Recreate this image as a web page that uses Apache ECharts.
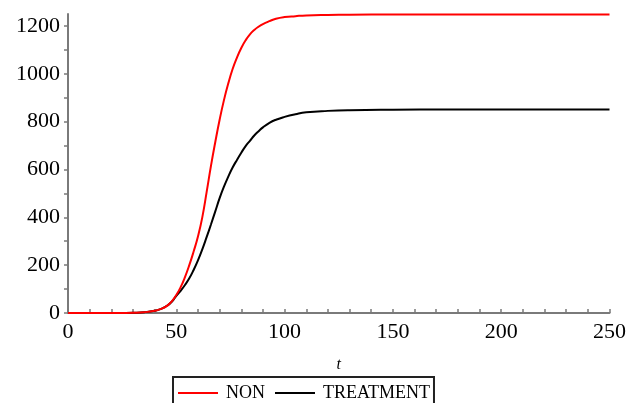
<!DOCTYPE html>
<html>
<head>
<meta charset="utf-8">
<script src="https://cdn.jsdelivr.net/npm/echarts@6/dist/echarts.min.js"></script>
<style>
  html, body { margin: 0; padding: 0; background: #fff; }
  #chart { width: 629px; height: 403px; }
</style>
</head>
<body>
<div id="chart"></div>
<script>
// time points (t)
var tVals = [0, 10, 20, 25, 30, 35, 40, 43, 46, 48, 50, 52, 54, 56, 58, 60, 62, 64, 66, 68, 70,
  72, 74, 76, 78, 80, 82, 84, 86, 88, 90, 93, 96, 100, 105, 110, 120, 130, 150, 175, 200, 225, 250];
var nonVals = [0, 0, 0, 0.3, 1, 3, 9, 17, 32, 50, 75, 108, 150, 200, 257, 320, 400, 505, 615, 715, 808,
  890, 960, 1020, 1068, 1108, 1140, 1165, 1183, 1197, 1208, 1220, 1230, 1237, 1241, 1244, 1246, 1247, 1248, 1248, 1248, 1248, 1248];
var treatVals = [0, 0, 0, 0.3, 1, 3, 9, 17, 32, 48, 72, 93, 117, 145, 180, 220, 266, 317, 370, 425, 480,
  528, 570, 608, 640, 670, 698, 720, 742, 760, 776, 795, 808, 820, 831, 839, 845, 848, 850, 851, 851, 851, 851];

var xLabelVals = [0, 50, 100, 150, 200, 250];
var xTickVals = [];
for (var i = 0; i <= 250; i += 10) xTickVals.push(i);
var yLabelVals = [0, 200, 400, 600, 800, 1000, 1200];
var yTickVals = [0, 100, 200, 300, 400, 500, 600, 700, 800, 900, 1000, 1100, 1200];

function pairs(xs, ys) {
  var out = [];
  for (var i = 0; i < xs.length; i++) out.push([xs[i], ys[i]]);
  return out;
}

var font = 'Liberation Serif';
var axisCol = '#7a7a7a';

var myChart = echarts.init(document.getElementById('chart'));
myChart.setOption({
  animation: false,
  textStyle: { fontFamily: font },
  grid: { left: 68, right: 18, top: 14, bottom: 90, containLabel: false },
  legend: {
    data: [
      { name: 'NON', icon: 'rect' },
      { name: 'TREATMENT', icon: 'rect' }
    ],
    left: 173,
    top: 377,
    itemWidth: 40,
    itemHeight: 2,
    itemGap: 10,
    padding: [7, 4, 10, 5],
    borderColor: '#222',
    borderWidth: 2,
    borderRadius: 0,
    textStyle: { fontFamily: font, fontSize: 18, color: '#000', padding: [0, 0, 0, 3] }
  },
  xAxis: {
    type: 'value',
    min: 0,
    max: 250,
    interval: 50,
    name: 't',
    nameLocation: 'middle',
    nameGap: 44,
    nameTextStyle: { fontFamily: font, fontStyle: 'italic', fontSize: 16, color: '#000' },
    axisLine: { show: true, onZero: false, lineStyle: { color: axisCol, width: 2 } },
    axisTick: { show: true, inside: true, length: 4, customValues: xTickVals, lineStyle: { color: axisCol, width: 1.5 } },
    axisLabel: { fontFamily: font, fontSize: 22, color: '#000', margin: 8, customValues: xLabelVals,
      formatter: function (v) { return String(v); } },
    splitLine: { show: false }
  },
  yAxis: {
    type: 'value',
    min: 0,
    max: 1250,
    interval: 200,
    axisLine: { show: true, onZero: false, lineStyle: { color: axisCol, width: 2 } },
    axisTick: { show: true, inside: false, length: 4, customValues: yTickVals, lineStyle: { color: axisCol, width: 1.5 } },
    axisLabel: { fontFamily: font, fontSize: 22, color: '#000', margin: 8, customValues: yLabelVals,
      formatter: function (v) { return String(v); } },
    splitLine: { show: false }
  },
  series: [
    {
      name: 'TREATMENT',
      type: 'line',
      data: pairs(tVals, treatVals),
      showSymbol: false,
      symbol: 'none',
      smooth: true,
      lineStyle: { color: '#000', width: 2 },
      itemStyle: { color: '#000' }
    },
    {
      name: 'NON',
      type: 'line',
      data: pairs(tVals, nonVals),
      showSymbol: false,
      symbol: 'none',
      smooth: true,
      lineStyle: { color: '#ff0000', width: 2 },
      itemStyle: { color: '#ff0000' }
    }
  ]
});
</script>
</body>
</html>
